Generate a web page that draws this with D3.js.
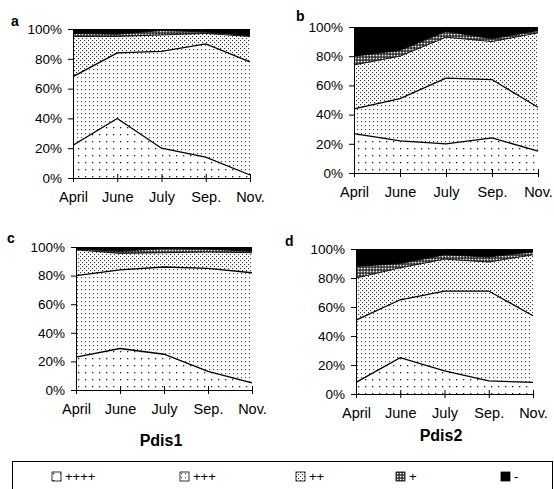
<!DOCTYPE html>
<html>
<head>
<meta charset="utf-8">
<script src="https://cdn.jsdelivr.net/npm/d3@7"></script>
<style>
body { margin: 0; background: #fff; }
text { font-family: "Liberation Sans", Arial, sans-serif; }
</style>
</head>
<body>
<div id="chart"></div>
<script>
var months = ["April", "June", "July", "Sep.", "Nov."];
var classes = ["++++", "+++", "++", "+", "-"];
var yTicks = [0, 20, 40, 60, 80, 100];

// percent of each class per month, rows follow classes
var panelA = [
    [22, 40, 20, 14, 2],
    [46, 44, 65, 76, 76],
    [27, 11, 11, 7, 17],
    [2, 1.5, 3, 1, 0.5],
    [3, 3.5, 1, 2, 4.5]
];
var panelB = [
    [27, 22, 20, 24, 15],
    [17, 29, 45, 40, 30],
    [30, 29, 28, 26, 51],
    [6, 4, 4, 2, 1.5],
    [20, 16, 3, 8, 2.5]
];
var panelC = [
    [23, 29, 25, 13, 5],
    [57, 55, 61, 72, 77],
    [18, 11.5, 10, 11.5, 14],
    [0.5, 1.5, 3, 2, 1],
    [1.5, 3, 1, 1.5, 3]
];
var panelD = [
    [8, 25, 16, 9, 8],
    [43, 40, 55, 62, 46],
    [29, 22, 22, 20, 42],
    [8, 3, 3, 3.5, 2],
    [12, 10, 4, 5.5, 2]
];
var panelTitles = ["Pdis1", "Pdis2"];

var width = 554, height = 489;

var svg = d3.select("#chart")
    .append("svg")
    .attr("width", width)
    .attr("height", height);

// fill patterns
var defs = svg.append("defs");

function addPattern(id, size, bg, dots, dotColor, dotSize) {
    var p = defs.append("pattern")
        .attr("id", id)
        .attr("patternUnits", "userSpaceOnUse")
        .attr("width", size)
        .attr("height", size);
    p.append("rect").attr("width", size).attr("height", size).attr("fill", bg);
    dots.forEach(function(d) {
        p.append("rect")
            .attr("x", d[0]).attr("y", d[1])
            .attr("width", dotSize).attr("height", dotSize)
            .attr("fill", dotColor);
    });
}
addPattern("p4", 7, "#fff", [[1, 1]], "#222", 1.3);
addPattern("p3", 4, "#fff", [[1, 1]], "#444", 1.1);
addPattern("p2", 4, "#fff", [[0, 0], [2, 2]], "#333", 1.1);
addPattern("p1", 3, "#222", [[0.7, 0.7]], "#fff", 1.7);
var fills = ["url(#p4)", "url(#p3)", "url(#p2)", "url(#p1)", "#000"];

var panels = [
    {data: panelA, label: "a", x0: 73, x1: 250, y0: 29, y1: 178, lx: 11, ly: 26},
    {data: panelB, label: "b", x0: 354, x1: 538, y0: 27, y1: 173, lx: 296, ly: 21},
    {data: panelC, label: "c", x0: 76, x1: 252, y0: 247, y1: 390, lx: 7, ly: 243},
    {data: panelD, label: "d", x0: 356, x1: 533, y0: 249, y1: 394, lx: 285, ly: 246}
];

var stack = d3.stack().keys(classes);

panels.forEach(function(p) {
    var table = months.map(function(m, i) {
        var row = {month: m};
        classes.forEach(function(c, k) { row[c] = p.data[k][i]; });
        return row;
    });
    var series = stack(table);

    var x = d3.scalePoint().domain(months).range([p.x0, p.x1]);
    var y = d3.scaleLinear().domain([0, 100]).range([p.y1, p.y0]);

    var area = d3.area()
        .x(function(d) { return x(d.data.month); })
        .y0(function(d) { return y(d[0]); })
        .y1(function(d) { return y(d[1]); });

    var line = d3.line()
        .x(function(d) { return x(d.data.month); })
        .y(function(d) { return y(d[1]); });

    var g = svg.append("g");

    g.selectAll("path.layer")
        .data(series)
        .enter()
        .append("path")
        .attr("class", "layer")
        .attr("d", area)
        .attr("fill", function(d, i) { return fills[i]; });

    g.selectAll("path.edge")
        .data(series.slice(0, 4))
        .enter()
        .append("path")
        .attr("class", "edge")
        .attr("d", line)
        .attr("fill", "none")
        .attr("stroke", "#000")
        .attr("stroke-width", function(d, i) { return i < 2 ? 1.3 : 0.9; });

    var xAxis = d3.axisBottom(x).tickSize(4).tickPadding(10);
    g.append("g")
        .attr("transform", "translate(0," + p.y1 + ")")
        .call(xAxis)
        .call(function(a) {
            a.selectAll(".tick line").attr("y1", -4);
            a.selectAll("text").attr("font-size", 14.5).attr("fill", "#000")
                .attr("font-family", "Liberation Sans, Arial, sans-serif");
            a.select(".domain").attr("stroke", "#000");
        });

    var yAxis = d3.axisLeft(y).tickValues(yTicks).tickSize(5).tickPadding(6)
        .tickFormat(function(d) { return d + "%"; });
    g.append("g")
        .attr("transform", "translate(" + p.x0 + ",0)")
        .call(yAxis)
        .call(function(a) {
            a.selectAll("text").attr("font-size", 13.5).attr("fill", "#000")
                .attr("font-family", "Liberation Sans, Arial, sans-serif");
            a.select(".domain").attr("stroke", "#000");
        });

    svg.append("text")
        .attr("x", p.lx)
        .attr("y", p.ly)
        .attr("font-size", 14)
        .attr("font-weight", "bold")
        .text(p.label);
});

// titles under bottom panels
svg.append("text")
    .attr("x", 161).attr("y", 446)
    .attr("text-anchor", "middle")
    .attr("font-size", 16).attr("font-weight", "bold")
    .text(panelTitles[0]);
svg.append("text")
    .attr("x", 441).attr("y", 441)
    .attr("text-anchor", "middle")
    .attr("font-size", 16).attr("font-weight", "bold")
    .text(panelTitles[1]);

// legend
var legendX = [52, 180, 296, 396, 501];
svg.append("rect")
    .attr("x", 12.5).attr("y", 461.5)
    .attr("width", 540).attr("height", 40)
    .attr("fill", "none")
    .attr("stroke", "#000")
    .attr("stroke-width", 1);

var leg = svg.append("g").selectAll("g")
    .data(classes)
    .enter()
    .append("g")
    .attr("transform", function(d, i) { return "translate(" + legendX[i] + ",472)"; });

leg.append("rect")
    .attr("width", 9).attr("height", 9)
    .attr("fill", function(d, i) { return fills[i]; })
    .attr("stroke", "#000")
    .attr("stroke-width", 0.8);

leg.append("text")
    .attr("x", 13).attr("y", 9)
    .attr("font-size", 13)
    .text(function(d) { return d; });
</script>
</body>
</html>
